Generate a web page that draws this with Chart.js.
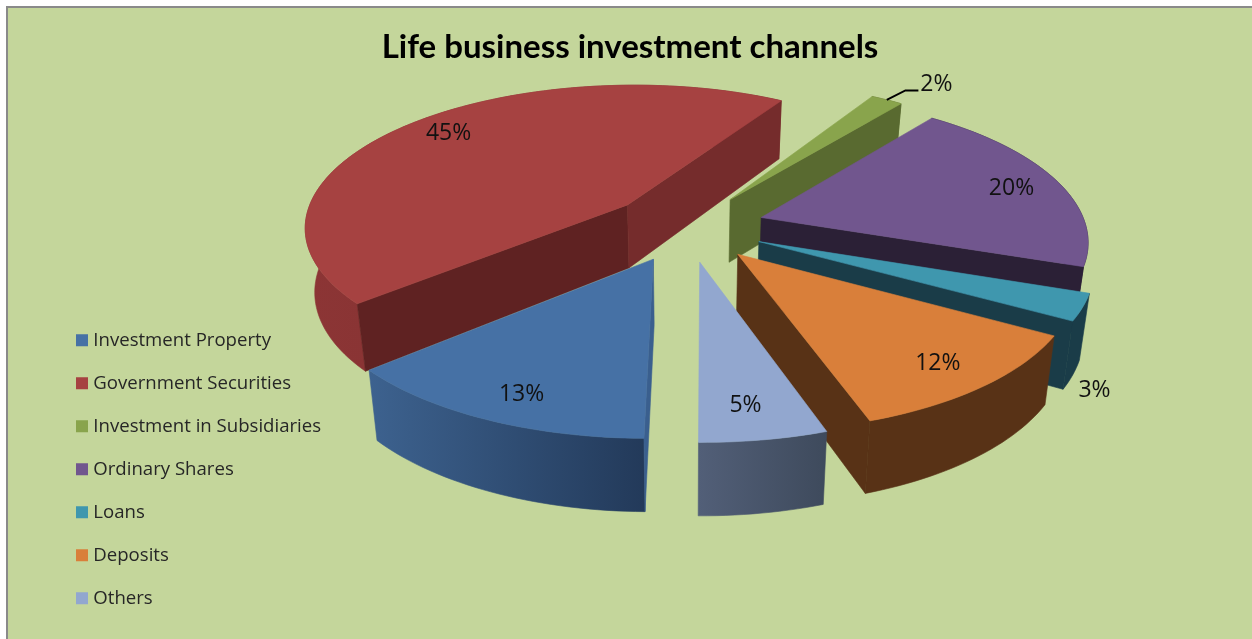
<!DOCTYPE html>
<html>
<head>
<meta charset="utf-8">
<style>html,body{margin:0;padding:0;background:#fff;overflow:hidden}canvas{display:block}</style>
<script src="https://cdn.jsdelivr.net/npm/chart.js@4/dist/chart.umd.min.js"></script>
</head>
<body>
<canvas id="c" width="1252" height="639"></canvas>
<script>
const titleText = "Life business investment channels";
const categories = ["Investment Property","Government Securities","Investment in Subsidiaries","Ordinary Shares","Loans","Deposits","Others"];
const shares = [13.46,45.1,1.86,19.86,2.92,11.5,5.3];
const topColors = ["#4671a5","#a64241","#89a44c","#71568e","#3f97ae","#d97f3a","#92a7cf"];
const explosion = [24,24.5,24,24,24,24,24];
// wall shades: start cut face, end cut face, outer rim left, outer rim right
const wallShades = [
  ["#3a5f8e","#3a5f8e","#3d628f","#233a5a"],
  ["#5f2222","#752c2c","#8c3535","#7a2e2e"],
  ["#596a30","#596a30","#5b6a30","#5b6a30"],
  ["#2b2036","#2b2036","#2b2036","#2b2036"],
  ["#1a3c48","#1a3c48","#1a3c48","#1a3c48"],
  ["#583216","#583216","#583216","#583216"],
  ["#3e4a5c","#3e4a5c","#525f78","#3e4a5c"]
];
const labelRadius = [0.85,0.84,1.23,0.836,1.23,0.84,0.83];
const labelTurn = [-1.5,2,3.5,1.5,21,0.5,1.1];

const VIEW = {cx:687, cy:227, rx:325, ry:143, k:0.1445, depth:64, shrink:0.975};
function project(u,v){
  const s = 1/(1-VIEW.k*v);
  return {x:VIEW.cx+VIEW.rx*u*s, y:VIEW.cy+VIEW.ry*v*s, s};
}
function lower(p){
  return {x:VIEW.cx+(p.x-VIEW.cx)*VIEW.shrink, y:p.y+VIEW.depth*Math.pow(p.s,0.7)};
}
function fillPoly(ctx,pts,fill){
  ctx.beginPath();
  pts.forEach((p,i)=>i?ctx.lineTo(p.x,p.y):ctx.moveTo(p.x,p.y));
  ctx.closePath();
  ctx.fillStyle=fill;
  ctx.fill();
  ctx.strokeStyle=fill;
  ctx.lineWidth=0.6;
  ctx.stroke();
}
// a cut face shows only when the slice's top lies above its edge on screen
function faceShows(apex,end,inside){
  const dx=end.x-apex.x, dy=end.y-apex.y;
  const cross=dx*(inside.y-apex.y)-dy*(inside.x-apex.x);
  return (dx>=0?cross:-cross)<0;
}

const frame = {
  id:'frame',
  beforeDraw(chart){
    const {ctx,width,height}=chart;
    ctx.save();
    ctx.fillStyle='#ffffff';ctx.fillRect(0,0,width,height);
    ctx.fillStyle='#8a8a8a';ctx.fillRect(6,6,width-6,height-6);
    ctx.fillStyle='#c4d69b';ctx.fillRect(8,8,width-8,height-8);
    ctx.restore();
  }
};

const pie3d = {
  id:'pie3d',
  beforeDatasetDraw(chart,args){
    const ctx=chart.ctx, meta=args.meta;
    const slices=meta.data.map((arc,i)=>{
      const mid=(arc.startAngle+arc.endAngle)/2;
      const e=arc.options.offset/100;
      return {arc,i,mid,e,ou:Math.cos(mid)*e,ov:Math.sin(mid)*e};
    });
    slices.slice().sort((a,b)=>a.ov-b.ov).forEach(s=>{
      const {arc,i,ou,ov,mid}=s;
      const rim=[], steps=Math.max(4,Math.ceil((arc.endAngle-arc.startAngle)*40));
      for(let j=0;j<=steps;j++){
        const a=arc.startAngle+(arc.endAngle-arc.startAngle)*j/steps;
        rim.push(project(ou+Math.cos(a),ov+Math.sin(a)));
      }
      const apex=project(ou,ov);
      const inside=project(ou+Math.cos(mid)*0.8,ov+Math.sin(mid)*0.8);
      const shade=wallShades[i];
      const lo=p=>lower(p);
      ctx.save();
      // outer rim wall
      const xs=rim.map(p=>p.x);
      const g=ctx.createLinearGradient(Math.min(...xs),0,Math.max(...xs),0);
      g.addColorStop(0,shade[2]);g.addColorStop(1,shade[3]);
      fillPoly(ctx,rim.concat(rim.slice().reverse().map(lo)),g);
      // cut faces
      const first=rim[0], last=rim[rim.length-1];
      if(faceShows(apex,first,inside)) fillPoly(ctx,[apex,first,lo(first),lo(apex)],shade[0]);
      if(faceShows(apex,last,inside)) fillPoly(ctx,[apex,last,lo(last),lo(apex)],shade[1]);
      // top
      fillPoly(ctx,[apex].concat(rim),arc.options.backgroundColor);
      ctx.restore();
    });
    // percentage labels
    ctx.save();
    ctx.font='23px "Open Sans"';
    ctx.fillStyle='#111111';
    ctx.textAlign='center';ctx.textBaseline='middle';
    slices.forEach(s=>{
      const a=s.mid+labelTurn[s.i]*Math.PI/180, r=labelRadius[s.i];
      const p=project(s.ou+Math.cos(a)*r,s.ov+Math.sin(a)*r);
      const pct=Math.round(shares[s.i]);
      ctx.fillText(pct+'%',p.x,p.y);
      if(pct===2){
        const start=project(s.ou+Math.cos(s.mid),s.ov+Math.sin(s.mid));
        ctx.beginPath();
        ctx.moveTo(start.x,start.y);
        ctx.lineTo(p.x-31,p.y+6);
        ctx.lineTo(p.x-18,p.y+6);
        ctx.strokeStyle='#000';ctx.lineWidth=2;ctx.stroke();
      }
    });
    ctx.restore();
    return false;
  }
};

new Chart(document.getElementById('c'),{
  type:'pie',
  data:{labels:categories,datasets:[{data:shares,backgroundColor:topColors,borderWidth:0,offset:explosion}]},
  plugins:[frame,pie3d],
  options:{
    responsive:false,animation:false,rotation:180.5,
    layout:{padding:{left:55.6,right:47.6,top:24,bottom:7}},
    plugins:{
      tooltip:{enabled:false},
      title:{display:true,text:titleText,color:'#000',font:{family:'Lato',size:33,weight:'bold'},padding:{top:4,bottom:0}},
      legend:{display:true,position:'left',align:'end',
        labels:{usePointStyle:true,pointStyle:'rect',boxWidth:4,boxHeight:12,padding:24.4,color:'#262626',font:{family:'"Open Sans"',size:18.6}}}
    }
  }
});
</script>
</body>
</html>
